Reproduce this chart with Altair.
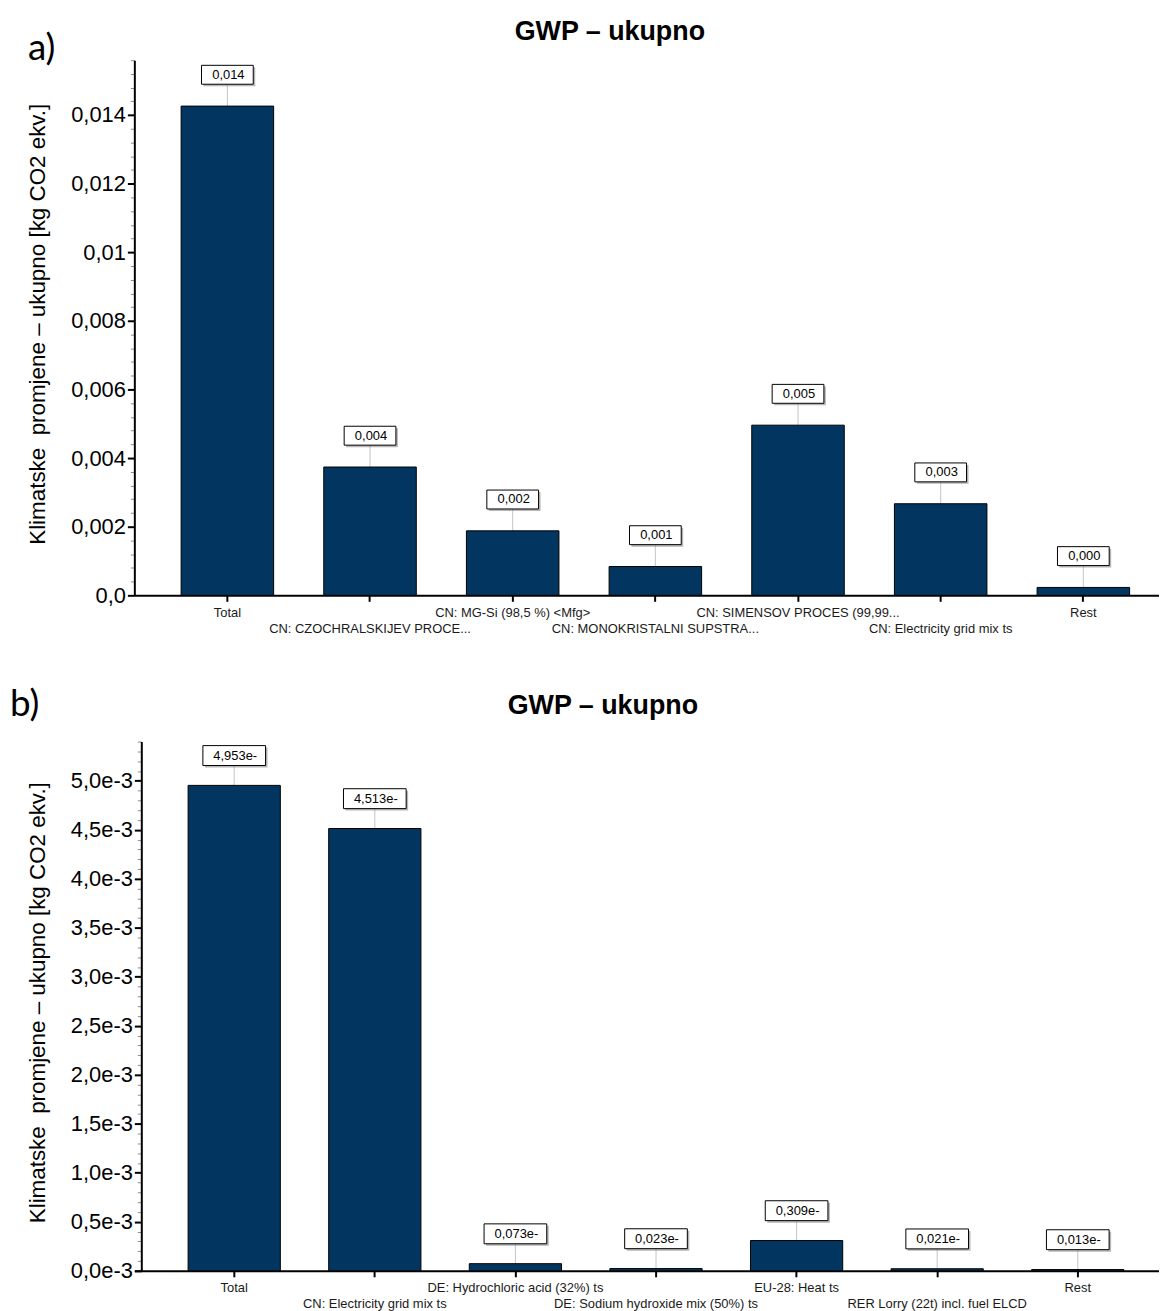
import json
import altair as alt
import pandas as pd

# ---------------- data ----------------
cats_a = [
    "Total",
    "CN: CZOCHRALSKIJEV PROCE...",
    "CN: MG-Si (98,5 %) <Mfg>",
    "CN: MONOKRISTALNI SUPSTRA...",
    "CN: SIMENSOV PROCES (99,99...",
    "CN: Electricity grid mix ts",
    "Rest",
]
vals_a = [0.01426, 0.00374, 0.00188, 0.00084, 0.00496, 0.00267, 0.00023]
labs_a = ["0,014", "0,004", "0,002", "0,001", "0,005", "0,003", "0,000"]

cats_b = [
    "Total",
    "CN: Electricity grid mix ts",
    "DE: Hydrochloric acid (32%) ts",
    "DE: Sodium hydroxide mix (50%) ts",
    "EU-28: Heat ts",
    "RER Lorry (22t) incl. fuel ELCD",
    "Rest",
]
vals_b = [4.953e-3, 4.513e-3, 0.073e-3, 0.023e-3, 0.309e-3, 0.021e-3, 0.013e-3]
labs_b = ["4,953e-", "4,513e-", "0,073e-", "0,023e-", "0,309e-", "0,021e-", "0,013e-"]

title_text = "GWP \u2013 ukupno"
y_title = "Klimatske\u00a0 promjene \u2013 ukupno [kg CO2 ekv.]"

BAR = "#023660"
FONT = "Liberation Sans"


def panel(cats, vals, labs, ymax, minor_step, major_step, label_expr,
          width, height, p_in, p_out, align, box_w, box_top, box_bot,
          tag, tag_x, tag_y, title_dx, title_off, title_x_axis, axis_offset):
    df = pd.DataFrame({"cat": cats, "v": vals, "lab": labs})
    n_minor = int(round(ymax / minor_step))
    tick_vals = [round(i * minor_step, 9) for i in range(n_minor + 1)]
    major = f"abs(datum.value/{major_step} - round(datum.value/{major_step})) < 0.01"

    xexpr = (f"indexof({json.dumps(cats)}, datum.value) % 2 == 1"
             " ? ['', datum.value] : datum.value")
    xenc = alt.X(
        "cat:N", sort=cats,
        scale=alt.Scale(paddingInner=p_in, paddingOuter=p_out, align=align),
        axis=alt.Axis(
            title=None, labelAngle=0, labelExpr=xexpr, labelOverlap=False,
            labelLimit=500, labelFont=FONT, labelFontSize=13,
            labelLineHeight=16, labelBaseline="top", labelPadding=5,
            labelColor="#1a1a1a", tickSize=6, tickWidth=2, tickColor="black",
            domainColor="black", domainWidth=2, grid=False,
        ),
    )
    yenc = alt.Y(
        "v:Q",
        scale=alt.Scale(domain=[0, ymax], nice=False, zero=True),
        axis=alt.Axis(
            values=tick_vals,
            labelExpr=f"{major} ? ({label_expr}) : ''",
            labelOverlap=False, labelFont=FONT, labelFontSize=22,
            labelColor="black", labelPadding=2,
            tickSize={"condition": {"test": major, "value": 7}, "value": 4},
            tickWidth={"condition": {"test": major, "value": 2}, "value": 1},
            tickColor={"condition": {"test": major, "value": "black"}, "value": "#8c8c8c"},
            domainColor="black", domainWidth=2, grid=False,
            title=y_title, titleFont=FONT, titleFontSize=22.5,
            titleFontWeight="normal", titleColor="black",
            titleAngle=270, titleBaseline="middle", titleAlign="center",
            titleX=title_x_axis, titleY=height / 2 - 4,
            offset=axis_offset,
        ),
    )
    base = alt.Chart(df)
    rule = base.mark_rule(color="#c4c4c4", strokeWidth=1, y2Offset=-box_bot).encode(
        x=xenc, y=yenc, y2="v:Q")
    shadow = base.mark_bar(width=box_w, fill="#7a7a7a", opacity=0.55,
                           xOffset=2, yOffset=-(box_top - 2), y2Offset=-(box_bot - 2)).encode(
        x=xenc, y=yenc, y2="v:Q")
    box = base.mark_bar(width=box_w, fill="white", stroke="black", strokeWidth=1,
                        yOffset=-box_top, y2Offset=-box_bot).encode(
        x=xenc, y=yenc, y2="v:Q")
    txt = base.mark_text(font=FONT, fontSize=13, color="black", baseline="middle",
                         dx=1, yOffset=-(box_top + box_bot) / 2).encode(
        x=xenc, y=yenc, text="lab:N")
    bars = base.mark_bar(fill=BAR, stroke="black", strokeWidth=1).encode(x=xenc, y=yenc)
    tag_layer = alt.Chart(pd.DataFrame({"t": [tag]})).mark_text(
        font="Lato", fontSize=37, align="left", baseline="alphabetic", color="black"
    ).encode(x=alt.value(tag_x), y=alt.value(tag_y), text="t:N")
    return alt.layer(rule, shadow, box, bars, txt, tag_layer).properties(
        width=width, height=height,
        title=alt.TitleParams(title_text, font=FONT, fontSize=27, fontWeight="bold",
                              color="black", anchor="middle", dx=title_dx,
                              offset=title_off),
    )


pa = panel(cats_a, vals_a, labs_a, 0.0156, 0.0004, 0.002,
           "datum.value == 0 ? '0,0' : replace(format(datum.value, '~g'), '.', ',')",
           1030, 538, 0.3515, 0.267, 0.614, 52, 41, 22,
           "a)", -107, 0, -37, -16, -97, 0)

pb = panel(cats_b, vals_b, labs_b, 0.0054, 0.0001, 0.0005,
           "replace(format(datum.value*1000, '.1f'), '.', ',') + 'e-3'",
           1030, 532, 0.344, 0.316, 0.605, 63, 40, 20,
           "b)", -125, -26, -44, -34, -104, -7)

chart = alt.vconcat(pa, pb, spacing=51).properties(
    padding={"left": 2, "top": 7, "right": 0, "bottom": 0}
).configure_view(stroke=None)

chart.save("out.html", embed_options={"renderer": "svg", "actions": False})
